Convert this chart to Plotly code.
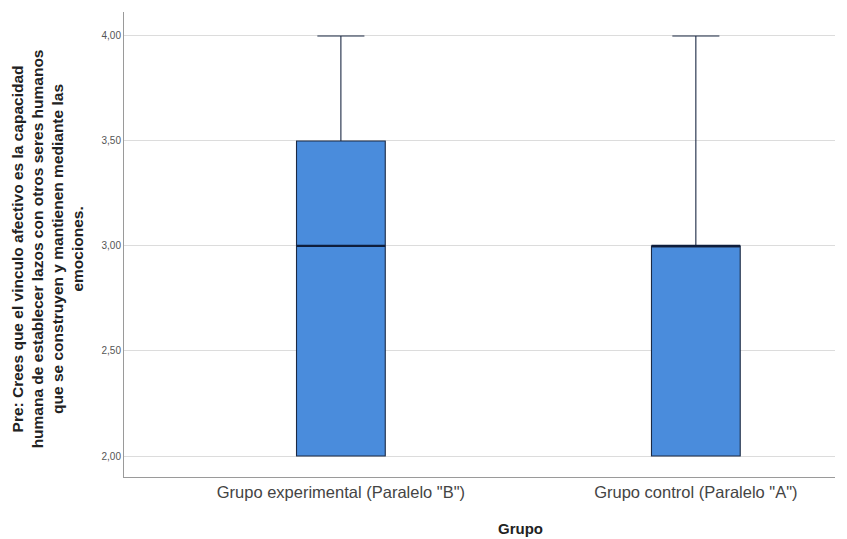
import plotly.graph_objects as go

categories = ['Grupo experimental (Paralelo "B")', 'Grupo control (Paralelo "A")']
lower_fence = [2.0, 2.0]
q1 = [2.0, 2.0]
median = [3.0, 3.0]
q3 = [3.5, 3.0]
upper_fence = [4.0, 4.0]
y_ticks = [2.0, 2.5, 3.0, 3.5, 4.0]

BOX_W = 0.25

fig = go.Figure()
fig.add_trace(go.Box(
    x=categories, q1=q1, median=median, q3=q3,
    lowerfence=lower_fence, upperfence=upper_fence,
    fillcolor='#4a8cdc', line=dict(color='#1c2a44', width=1.1),
    width=BOX_W, whiskerwidth=0.53, boxpoints=False, showlegend=False,
    hoverinfo='skip'
))

# thicker median lines, as in the reference
shapes = [
    dict(type='line', xref='x', yref='y', x0=i - BOX_W / 2, x1=i + BOX_W / 2,
         y0=m, y1=m, line=dict(color='#0f1e3c', width=2.2))
    for i, m in enumerate(median)
]

ytitle = ['Pre: Crees que el vinculo afectivo es la capacidad',
          'humana de establecer lazos con otros seres humanos',
          'que se construyen y mantienen mediante las',
          'emociones.']

fig.update_layout(
    width=839, height=531,
    margin=dict(l=116, r=12, t=4, b=62),
    plot_bgcolor='white', paper_bgcolor='white',
    separators=',.',
    font=dict(family='Liberation Sans, Arial, sans-serif'),
    shapes=shapes,
    xaxis=dict(
        type='category', range=[-0.611, 1.392],
        showline=True, linecolor='#9a9a9a', linewidth=1,
        showgrid=False, ticks='', zeroline=False,
        tickfont=dict(size=16.5, color='#444444'),
    ),
    yaxis=dict(
        range=[1.9, 4.114], tickvals=y_ticks, tickformat='.2f',
        showline=True, linecolor='#9a9a9a', linewidth=1,
        showgrid=True, gridcolor='#dcdcdc', gridwidth=1,
        ticks='', zeroline=False,
        tickfont=dict(size=10, color='#555555'),
    ),
    annotations=[
        dict(text='<br>'.join('<b>' + s + '</b>' for s in ytitle),
             xref='paper', yref='paper', x=-0.108, y=0.49, textangle=-90,
             showarrow=False, align='center', xanchor='center', yanchor='middle',
             font=dict(size=15.5, color='#222222')),
        dict(text='<b>Grupo</b>', xref='paper', yref='paper',
             x=(512 - 116) / 711, y=-0.11, showarrow=False,
             xanchor='center', yanchor='middle',
             font=dict(size=15, color='#222222')),
    ],
)

fig.write_html('out.html')
